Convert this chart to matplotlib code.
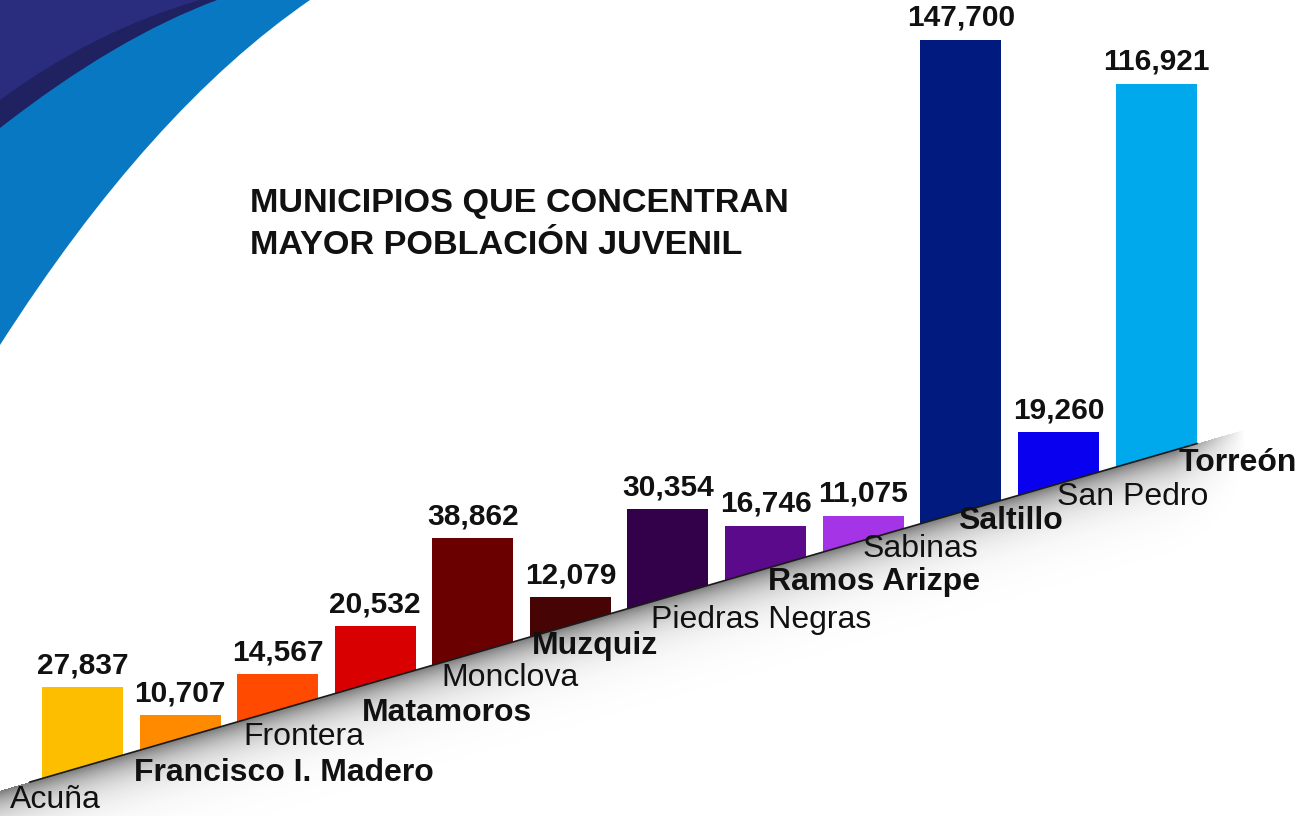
import numpy as np
import matplotlib.pyplot as plt
import matplotlib.transforms as mtransforms
from matplotlib.path import Path
from matplotlib.patches import PathPatch, Polygon

plt.rcParams["font.family"] = ["Liberation Sans", "DejaVu Sans"]

municipios = ["Acuña", "Francisco I. Madero", "Frontera", "Matamoros", "Monclova", "Muzquiz",
              "Piedras Negras", "Ramos Arizpe", "Sabinas", "Saltillo", "San Pedro", "Torreón"]
poblacion = [27837, 10707, 14567, 20532, 38862, 12079, 30354, 16746, 11075, 147700, 19260, 116921]
negrita = [False, True, False, True, False, True, False, True, False, True, False, True]
colores = ["#FDBE00", "#FF8A00", "#FF4A00", "#D80000", "#6A0000", "#470405",
           "#33004A", "#5C0A8C", "#A434E6", "#001A80", "#0A00F0", "#00A8EC"]

# label placement: px right of the bar's left edge, px below the tilted baseline
label_dx = [-32, -6, 6, 27, 9, 2, 24, 43, 40, 38, 39, 63]
label_dy = [12, 21, 17, 27, 15, 10, 18, 14, 8, 8, 13, 14]

W, H = 1308, 816
STEP, X0 = 97.6, 82.4      # px between bars, px of first bar centre
K = 305                    # people per pixel of bar height
BAR_W = 81 / STEP


def line_px(p):
    """pixel row of the tilted baseline at pixel column p"""
    return 782 - 0.29 * (p - 30)


def to_px(xd):
    return X0 + STEP * xd


def to_xd(p):
    return (p - X0) / STEP


def base(xd):
    return (H - line_px(to_px(xd))) * K


fig = plt.figure(figsize=(W / 100, H / 100), dpi=100)
ax = fig.add_axes([0, 0, 1, 1])
xmin, xmax = to_xd(0), to_xd(W)
ax.set_xlim(xmin, xmax)
ax.set_ylim(0, H * K)
ax.axis("off")
pix = mtransforms.Affine2D().scale(1 / W, -1 / H).translate(0, 1) + fig.transFigure

# corner decoration
def swoosh(top_x, ctrl, left_y, color):
    verts = [(0, 0), (top_x, 0), ctrl, (0, left_y), (0, 0)]
    codes = [Path.MOVETO, Path.LINETO, Path.CURVE3, Path.CURVE3, Path.CLOSEPOLY]
    ax.add_patch(PathPatch(Path(verts, codes), facecolor=color, edgecolor="none",
                           transform=pix, zorder=0))


swoosh(310, (150, 110), 345, "#0978C2")
swoosh(217, (115, 38), 128, "#1F2160")
swoosh(200, (95, 30), 100, "#2A2C7D")

# bars standing on the tilted line
x = np.arange(len(municipios))
bottoms = base(x - BAR_W / 2)
ax.bar(x, poblacion, width=BAR_W, bottom=bottoms, color=colores, zorder=1)

# white floor + shadow under the line
x_start, x_end = to_xd(30), to_xd(1197)
ax.add_patch(Polygon([(xmin, base(xmin)), (x_end, base(x_end)), (x_end, 0), (xmin, 0)],
                     closed=True, facecolor="white", edgecolor="none", zorder=2))
px = np.arange(W) + 0.5
py = np.arange(H) + 0.5
d = py[:, None] - line_px(px)[None, :]
alpha = np.where(d > 0, 0.62 * np.exp(-np.clip(d, 0, None) / 20.0), 0.0)
alpha *= np.clip((1245 - px) / 70.0, 0, 1)[None, :]
img = np.zeros((H, W, 4))
img[..., :3] = 0.15
img[..., 3] = alpha
ax.imshow(img, extent=(xmin, xmax, 0, H * K), origin="upper", aspect="auto",
          interpolation="bilinear", zorder=3)
ax.plot([x_start, x_end], [base(x_start), base(x_end)], color="#1a1a1a", lw=1.2, zorder=4)

# value labels
for xi, v, b in zip(x, poblacion, bottoms):
    ax.annotate(f"{v:,}", (xi, b + v), xytext=(0, 10), textcoords="offset points",
                ha="center", va="baseline", fontsize=21.5, fontweight="bold",
                color="#111111", zorder=5)

# municipality names
for xi, name, bold, dx, dy in zip(x, municipios, negrita, label_dx, label_dy):
    xl = xi - BAR_W / 2 + dx / STEP
    ax.text(xl, base(xl) - dy * K, name, ha="left", va="center", fontsize=23,
            fontweight="bold" if bold else "normal", color="#111111", zorder=5)

ax.text(250, 212, "MUNICIPIOS QUE CONCENTRAN", transform=pix, ha="left", va="baseline",
        fontsize=24.7, fontweight="bold", color="#111111")
ax.text(250, 254, "MAYOR POBLACIÓN JUVENIL", transform=pix, ha="left", va="baseline",
        fontsize=24.7, fontweight="bold", color="#111111")

fig.savefig("out.png", dpi=100)
